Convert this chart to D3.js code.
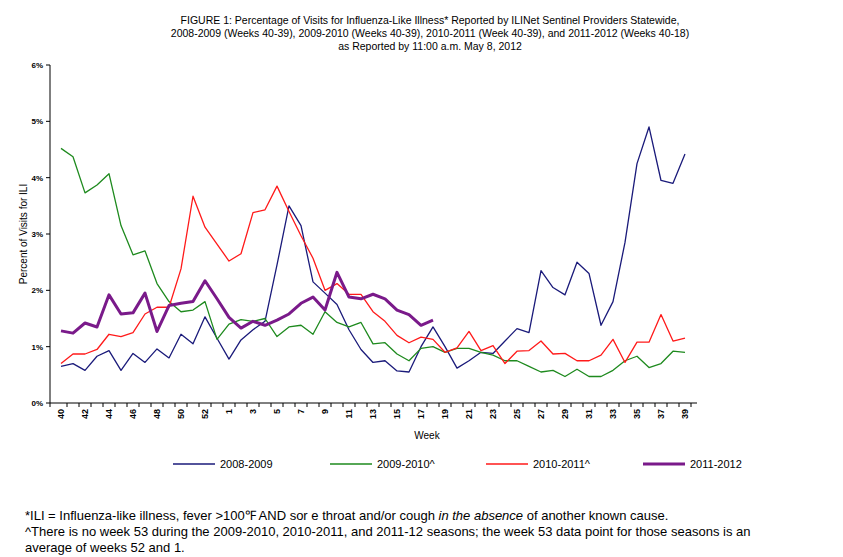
<!DOCTYPE html>
<html><head><meta charset="utf-8">
<script src="https://cdn.jsdelivr.net/npm/d3@7"></script>
<style>body{margin:0;background:#fff;font-family:Arial,"Liberation Sans",sans-serif}</style>
</head><body><svg id="c" width="843" height="557"></svg>
<script>
const weeks=[40,41,42,43,44,45,46,47,48,49,50,51,52,53,1,2,3,4,5,6,7,8,9,10,11,12,13,14,15,16,17,18,19,20,21,22,23,24,25,26,27,28,29,30,31,32,33,34,35,36,37,38,39];
const tickWeeks=[40,42,44,46,48,50,52,1,3,5,7,9,11,13,15,17,19,21,23,25,27,29,31,33,35,37,39];
const s0809=[0.65,0.7,0.58,0.83,0.93,0.58,0.88,0.72,0.96,0.8,1.22,1.05,1.53,1.15,0.78,1.12,1.3,1.45,2.45,3.5,3.15,2.15,1.95,1.75,1.3,0.95,0.72,0.75,0.57,0.55,1.0,1.35,1.0,0.62,0.75,0.9,0.88,1.1,1.32,1.25,2.35,2.05,1.92,2.5,2.3,1.38,1.8,2.85,4.25,4.9,3.95,3.9,4.42];
const s0910=[4.52,4.37,3.73,3.87,4.07,3.15,2.63,2.7,2.12,1.8,1.62,1.65,1.8,1.13,1.4,1.48,1.45,1.5,1.18,1.35,1.38,1.22,1.62,1.43,1.35,1.43,1.05,1.07,0.87,0.75,0.97,1.0,0.9,0.97,0.97,0.9,0.85,0.75,0.75,0.65,0.55,0.58,0.47,0.6,0.47,0.47,0.58,0.75,0.83,0.63,0.7,0.92,0.9];
const s1011=[0.7,0.87,0.87,0.95,1.22,1.18,1.25,1.58,1.7,1.7,2.38,3.67,3.12,2.82,2.52,2.65,3.38,3.43,3.85,3.4,2.97,2.57,2.0,2.12,1.93,1.93,1.62,1.45,1.2,1.07,1.17,1.13,0.9,0.98,1.27,0.93,1.02,0.7,0.92,0.93,1.1,0.87,0.88,0.75,0.75,0.85,1.13,0.72,1.08,1.08,1.57,1.1,1.15];
const s1112=[1.28,1.24,1.42,1.35,1.92,1.58,1.6,1.95,1.27,1.73,1.77,1.8,2.17,1.85,1.52,1.33,1.45,1.38,1.47,1.58,1.77,1.88,1.65,2.32,1.88,1.85,1.93,1.85,1.65,1.57,1.38,1.47];
const yTicks=[0,1,2,3,4,5,6];
const series=[
 {name:"2008-2009",vals:s0809,color:"#1a1a7a",w:1.3},
 {name:"2009-2010^",vals:s0910,color:"#1e8a1e",w:1.3},
 {name:"2010-2011^",vals:s1011,color:"#ff1a1a",w:1.3},
 {name:"2011-2012",vals:s1112,color:"#7a1a8a",w:3}];
const svg=d3.select("#c");
const L=50,R=697,T=65,B=403;
const x=d3.scalePoint().domain(d3.range(weeks.length)).range([61,685]);
const y=d3.scaleLinear().domain([0,6]).range([B,T]);
// title
const title=["FIGURE 1: Percentage of Visits for Influenza-Like  Illness* Reported by ILINet Sentinel Providers Statewide,",
"2008-2009  (Weeks 40-39), 2009-2010  (Weeks 40-39),  2010-2011  (Week 40-39), and 2011-2012  (Weeks 40-18)",
"as Reported by 11:00 a.m. May 8, 2012"];
title.forEach((t,i)=>svg.append("text").attr("x",430).attr("y",24+i*13).attr("text-anchor","middle").attr("font-size",10.5).text(t));
// axes
svg.append("line").attr("x1",L).attr("x2",L).attr("y1",T).attr("y2",B).attr("stroke","#000");
svg.append("line").attr("x1",L).attr("x2",R).attr("y1",B).attr("y2",B).attr("stroke","#000");
yTicks.forEach(v=>{
 svg.append("line").attr("x1",L-4).attr("x2",L).attr("y1",y(v)).attr("y2",y(v)).attr("stroke","#000");
 svg.append("text").attr("x",L-7).attr("y",y(v)+3).attr("text-anchor","end").attr("font-size",8).attr("font-weight","bold").text(v+"%");
});
weeks.forEach((w,i)=>{
 svg.append("line").attr("x1",x(i)+6).attr("x2",x(i)+6).attr("y1",B).attr("y2",B+4).attr("stroke","#000");
 if(tickWeeks.includes(w)){
  svg.append("text").attr("transform",`translate(${x(i)+3},${B+6}) rotate(-90)`).attr("text-anchor","end").attr("font-size",9).attr("font-weight","bold").text(w);
 }
});
svg.append("line").attr("x1",L).attr("x2",L).attr("y1",B).attr("y2",B+4).attr("stroke","#000");
svg.append("text").attr("x",427).attr("y",439).attr("text-anchor","middle").attr("font-size",10).text("Week");
svg.append("text").attr("transform",`translate(27,234) rotate(-90)`).attr("text-anchor","middle").attr("font-size",10).text("Percent of Visits for ILI");
const line=d3.line().x((d,i)=>x(i)).y(d=>y(d));
series.forEach(s=>svg.append("path").attr("d",line(s.vals)).attr("fill","none").attr("stroke",s.color).attr("stroke-width",s.w).attr("stroke-linejoin","round"));
// legend
const lx=[173,330,486,643];
series.forEach((s,i)=>{
 svg.append("line").attr("x1",lx[i]).attr("x2",lx[i]+42).attr("y1",464).attr("y2",464).attr("stroke",s.color).attr("stroke-width",s.w);
 svg.append("text").attr("x",lx[i]+47).attr("y",468).attr("font-size",11).text(s.name);
});
const f=svg.append("g").attr("font-size",13);
const t1=f.append("text").attr("x",25).attr("y",520);
t1.append("tspan").text("*ILI = Influenza-like illness, fever >100\u2109 AND sor e throat and/or cough ");
t1.append("tspan").attr("font-style","italic").text("in the absence");
t1.append("tspan").text(" of another known cause.");
f.append("text").attr("x",25).attr("y",536).text("^There is no week 53 during the 2009-2010, 2010-2011, and 2011-12 seasons; the week 53 data point for those seasons is an");
f.append("text").attr("x",25).attr("y",552).text("average of weeks 52 and 1.");
</script></body></html>
